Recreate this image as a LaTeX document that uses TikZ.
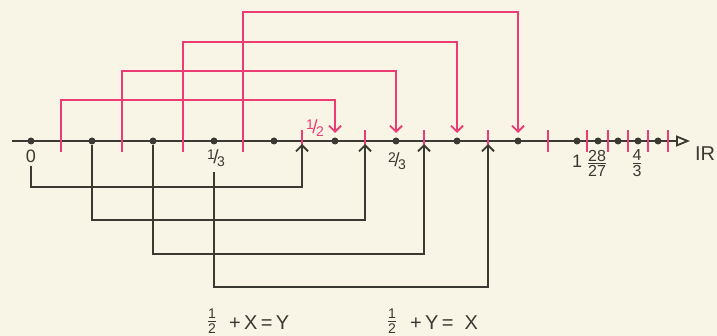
\documentclass[tikz,border=0pt]{standalone}
\usepackage{amsmath}
\usepackage{fontspec}
\setmainfont{Liberation Sans}
\usetikzlibrary{arrows.meta,calc}
\definecolor{paper}{HTML}{F8F5E6}
\definecolor{pinkc}{HTML}{EC3C74}
\definecolor{inkc}{HTML}{3A3A32}
\newcommand{\slfrac}[2]{\raisebox{0.4ex}{\fontsize{14}{14}\selectfont #1}\kern-0.08em{\fontsize{19}{19}\selectfont /}\kern-0.08em\raisebox{-0.3ex}{\fontsize{14}{14}\selectfont #2}}
\newcommand{\stfrac}[3]{$\genfrac{}{}{1pt}{}{\mbox{\fontsize{#3}{#3}\selectfont #1}}{\mbox{\fontsize{#3}{#3}\selectfont #2}}$}
\begin{document}
\begin{tikzpicture}[x=1pt,y=-1pt,
  dot/.style={circle,fill=inkc,inner sep=0pt,minimum size=7pt},
  pinkline/.style={draw=pinkc,line width=2pt},
  inkline/.style={draw=inkc,line width=2pt},
  pinkarrow/.style={pinkline,-{Straight Barb[length=6pt,width=12pt,line width=1.8pt]}},
  inkarrow/.style={inkline,-{Straight Barb[length=6pt,width=12pt,line width=1.8pt]}},
  lbl/.style={inner sep=0pt,text=inkc,font=\fontsize{18}{18}\selectfont},
  eq/.style={inner sep=0pt,text=inkc,font=\fontsize{20}{20}\selectfont}]
\fill[paper] (0,0) rectangle (717,336);
\useasboundingbox (0,0) rectangle (717,336);
% axis
\coordinate (axL) at (12,141);
\coordinate (axR) at (690,141);
\draw[inkc,line width=2pt,-{Triangle[open,length=14pt,width=11pt,line width=1.8pt]}] (axL) -- (axR);
% ticks
\foreach \x [count=\i] in {61,122,183,243,302,365,424,488,548,587,608,628,648,668}{
  \coordinate (t\i) at (\x,141);
  \draw[pinkline] ($(t\i)+(0,-11)$) -- ($(t\i)+(0,11)$);
}
% dots
\foreach \x [count=\i] in {31,92,153,214,274,335,396,457,518,577,598,618,638,658}{
  \node[dot] (d\i) at (\x,141) {};
}
% levels
\coordinate (p1) at (0,100);
\coordinate (p2) at (0,71);
\coordinate (p3) at (0,42);
\coordinate (p4) at (0,12);
\coordinate (b1) at (0,187);
\coordinate (b2) at (0,220);
\coordinate (b3) at (0,254);
\coordinate (b4) at (0,287);
% pink connectors
\draw[pinkarrow] ($(t1)+(0,8)$) -- (t1|-p1) -| ($(d6)+(0,-8)$);
\draw[pinkarrow] ($(t2)+(0,8)$) -- (t2|-p2) -| ($(d7)+(0,-8)$);
\draw[pinkarrow] ($(t3)+(0,8)$) -- (t3|-p3) -| ($(d8)+(0,-8)$);
\draw[pinkarrow] ($(t4)+(0,8)$) -- (t4|-p4) -| ($(d9)+(0,-8)$);
% black connectors
\draw[inkarrow] ($(d1)+(0,25)$) -- (d1|-b1) -| ($(t5)+(0,3)$);
\draw[inkarrow] (d2) -- (d2|-b2) -| ($(t6)+(0,3)$);
\draw[inkarrow] (d3) -- (d3|-b3) -| ($(t7)+(0,3)$);
\draw[inkarrow] ($(d4)+(0,31)$) -- (d4|-b4) -| ($(t8)+(0,3)$);
% labels
\node[lbl] (l0) at (31,156) {0};
\node[lbl] (l13) at (216,158) {\slfrac{1}{3}};
\node[lbl,text=pinkc] (l12) at (315,128) {\slfrac{1}{2}};
\node[lbl] (l23) at (397,161) {\slfrac{2}{3}};
\node[lbl] (l1) at (577,161) {1};
\node[lbl] (l2827) at (597,163) {\stfrac{28}{27}{16}};
\node[lbl] (l43) at (637,163) {\stfrac{4}{3}{16}};
\node[lbl,font=\fontsize{20}{20}\selectfont] (lIR) at (705,154) {IR};
% equations
\node[eq] (f1) at (212,321) {\stfrac{1}{2}{14}};
\node[eq,anchor=west] (e1) at (229,323) {+\,X\,=\,Y};
\node[eq] (f2) at (392,321) {\stfrac{1}{2}{14}};
\node[eq,anchor=west] (e2) at (410,323) {+\,Y\,=\;\;X};
\end{tikzpicture}
\end{document}
